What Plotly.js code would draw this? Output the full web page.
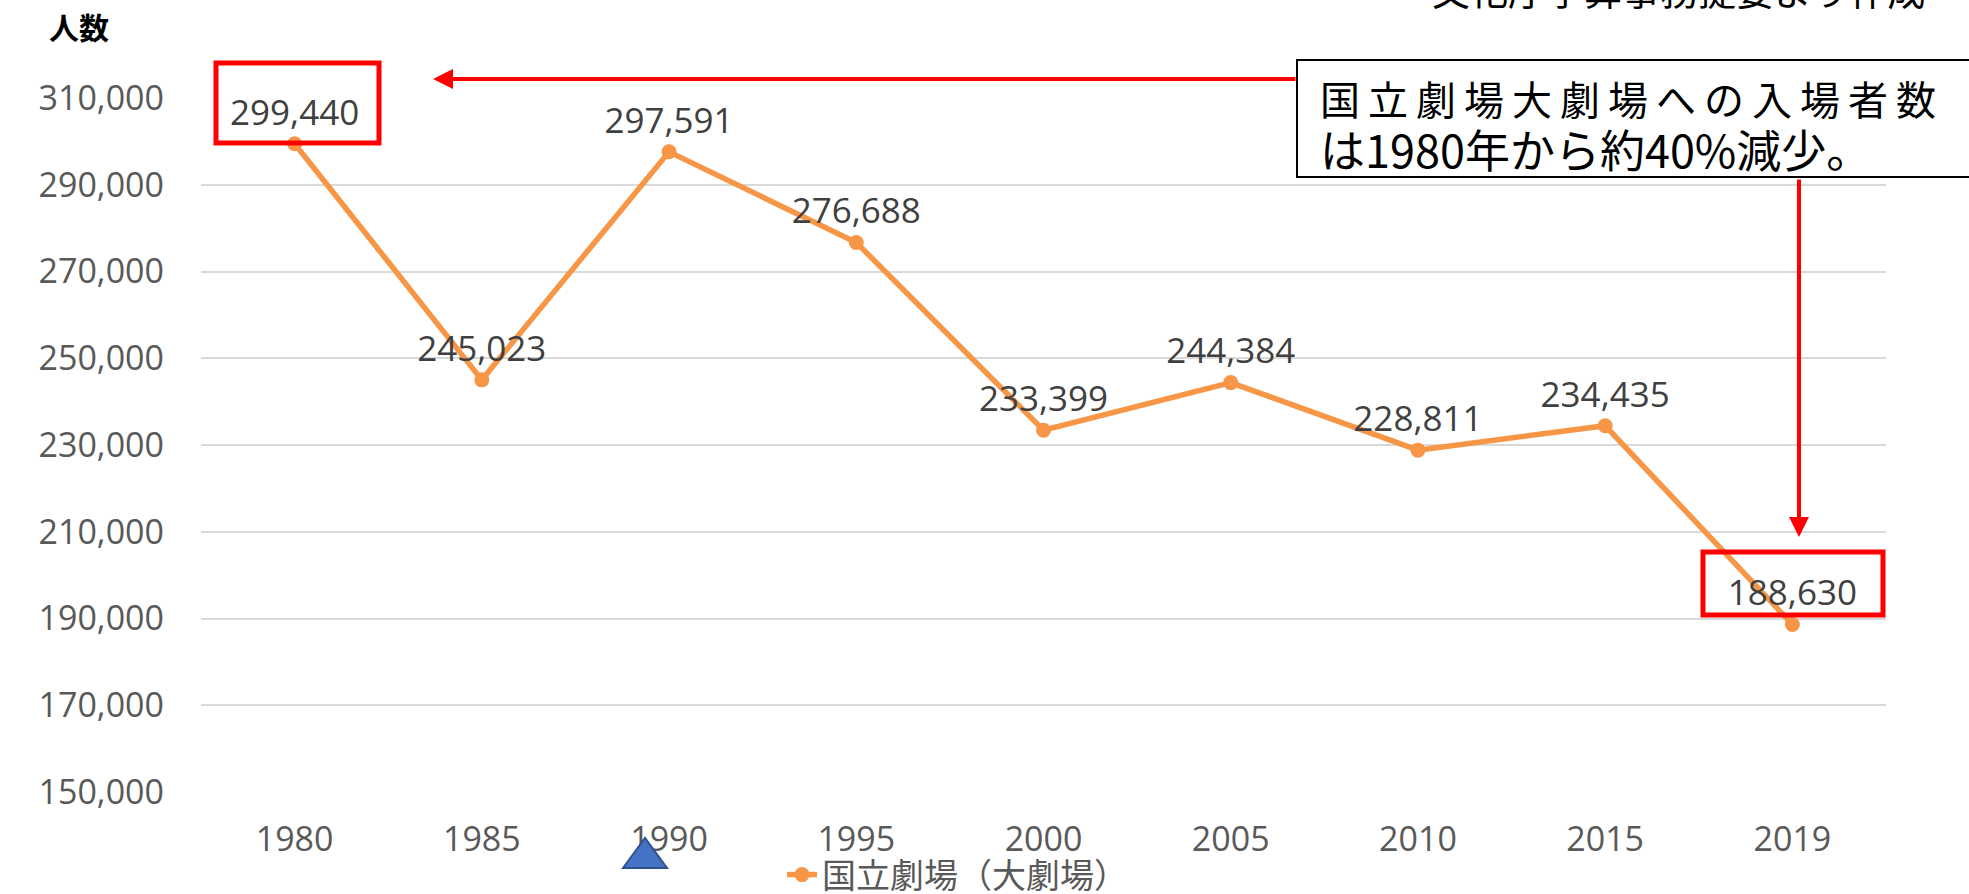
<!DOCTYPE html>
<html>
<head>
<meta charset="utf-8">
<script src="https://cdn.plot.ly/plotly-3.0.1.min.js"></script>
<style>
    html, body { margin: 0; padding: 0; background: #fff; }
    #chart { width: 1969px; height: 894px; }
</style>
</head>
<body>
<div id="chart"></div>
<script>
// 国立劇場大劇場 入場者数
const years = ['1980', '1985', '1990', '1995', '2000', '2005', '2010', '2015', '2019'];
const visitors = [299440, 245023, 297591, 276688, 233399, 244384, 228811, 234435, 188630];
const seriesName = '国立劇場（大劇場）';
const yTicks = [150000, 170000, 190000, 210000, 230000, 250000, 270000, 290000, 310000];

const W = 1969, H = 894;
const M = { l: 201, r: 83, t: 98, b: 102, autoexpand: false };
const plotW = W - M.l - M.r;
const plotH = H - M.t - M.b;

// pixel -> paper helpers for the overlay decorations
function px(x) { return (x - M.l) / plotW; }
function py(y) { return (H - M.b - y) / plotH; }

const jpFont = '"Noto Sans CJK JP", "Noto Sans", sans-serif';
const numFont = '"Open Sans", "Noto Sans", sans-serif';

const trace = {
    x: years,
    y: visitors,
    type: 'scatter',
    mode: 'lines+markers+text',
    name: seriesName,
    line: { color: '#F79646', width: 5.5 },
    marker: { color: '#F79646', size: 15 },
    text: visitors.map(v => v.toLocaleString('en-US')),
    textposition: 'top center',
    textfont: { family: numFont, size: 35, color: '#404040' },
    cliponaxis: false
};

const layout = {
    width: W,
    height: H,
    margin: M,
    paper_bgcolor: 'white',
    plot_bgcolor: 'white',
    showlegend: true,
    legend: {
        orientation: 'h',
        x: px(782),
        xanchor: 'left',
        y: py(875),
        yanchor: 'middle',
        font: { family: jpFont, size: 34, color: '#595959' },
        bgcolor: 'rgba(0,0,0,0)'
    },
    xaxis: {
        type: 'category',
        range: [-0.5, years.length - 0.5],
        showgrid: false,
        zeroline: false,
        showline: false,
        ticks: '',
        ticklabelstandoff: 24,
        tickfont: { family: numFont, size: 34, color: '#595959' }
    },
    yaxis: {
        range: [150000, 310000],
        tickvals: yTicks,
        ticktext: yTicks.map(v => v.toLocaleString('en-US')),
        showgrid: true,
        gridcolor: '#d9d9d9',
        gridwidth: 2,
        zeroline: false,
        showline: false,
        ticks: '',
        ticklabelstandoff: 36,
        tickfont: { family: numFont, size: 34, color: '#595959' }
    },
    shapes: [
        // red highlight boxes
        {
            type: 'rect', xref: 'paper', yref: 'paper',
            x0: px(216), x1: px(379), y0: py(143), y1: py(63),
            line: { color: '#FF0000', width: 5 }
        },
        {
            type: 'rect', xref: 'paper', yref: 'paper',
            x0: px(1703), x1: px(1883), y0: py(615), y1: py(552),
            line: { color: '#FF0000', width: 5 }
        },
        // callout box
        {
            type: 'rect', xref: 'paper', yref: 'paper', layer: 'above',
            x0: px(1297), x1: px(1995), y0: py(177), y1: py(60),
            fillcolor: 'white',
            line: { color: '#000000', width: 2 }
        },
        // blue triangle under the axis
        {
            type: 'path', xref: 'paper', yref: 'paper',
            path: 'M ' + px(623) + ' ' + py(868) + ' L ' + px(645) + ' ' + py(838) +
                  ' L ' + px(667) + ' ' + py(868) + ' Z',
            fillcolor: '#4472C4',
            line: { color: '#2F528F', width: 2 }
        }
    ],
    annotations: [
        {
            text: '<b>人数</b>', xref: 'paper', yref: 'paper',
            x: px(79), y: py(26), xanchor: 'center', yanchor: 'middle',
            showarrow: false,
            font: { family: jpFont, size: 30, color: '#000' }
        },
        {
            text: '文化庁予算事務提要より作成', xref: 'paper', yref: 'paper',
            x: px(1678), y: py(-12), xanchor: 'center', yanchor: 'middle',
            showarrow: false,
            font: { family: jpFont, size: 38, color: '#000' }
        },
        {
            text: '国\u2009立\u2009劇\u2009場\u2009大\u2009劇\u2009場\u2009へ\u2009の\u2009入\u2009場\u2009者\u2009数',
            xref: 'paper', yref: 'paper',
            x: px(1318), y: py(98), xanchor: 'left', yanchor: 'middle',
            showarrow: false,
            font: { family: jpFont, size: 40, color: '#000' }
        },
        {
            text: 'は1980年から約40%減少。',
            xref: 'paper', yref: 'paper',
            x: px(1318), y: py(148), xanchor: 'left', yanchor: 'middle',
            showarrow: false,
            font: { family: jpFont, size: 45, color: '#000' }
        },
        // red arrows
        {
            text: '', xref: 'paper', yref: 'paper',
            x: px(433), y: py(79), ax: 1297 - 433, ay: 0,
            showarrow: true, arrowhead: 2, arrowsize: 1, arrowwidth: 4,
            arrowcolor: '#FF0000'
        },
        {
            text: '', xref: 'paper', yref: 'paper',
            x: px(1799), y: py(537), ax: 0, ay: 178 - 537,
            showarrow: true, arrowhead: 2, arrowsize: 1, arrowwidth: 4,
            arrowcolor: '#FF0000'
        }
    ]
};

Plotly.newPlot('chart', [trace], layout, { displayModeBar: false, staticPlot: true });
</script>
</body>
</html>
